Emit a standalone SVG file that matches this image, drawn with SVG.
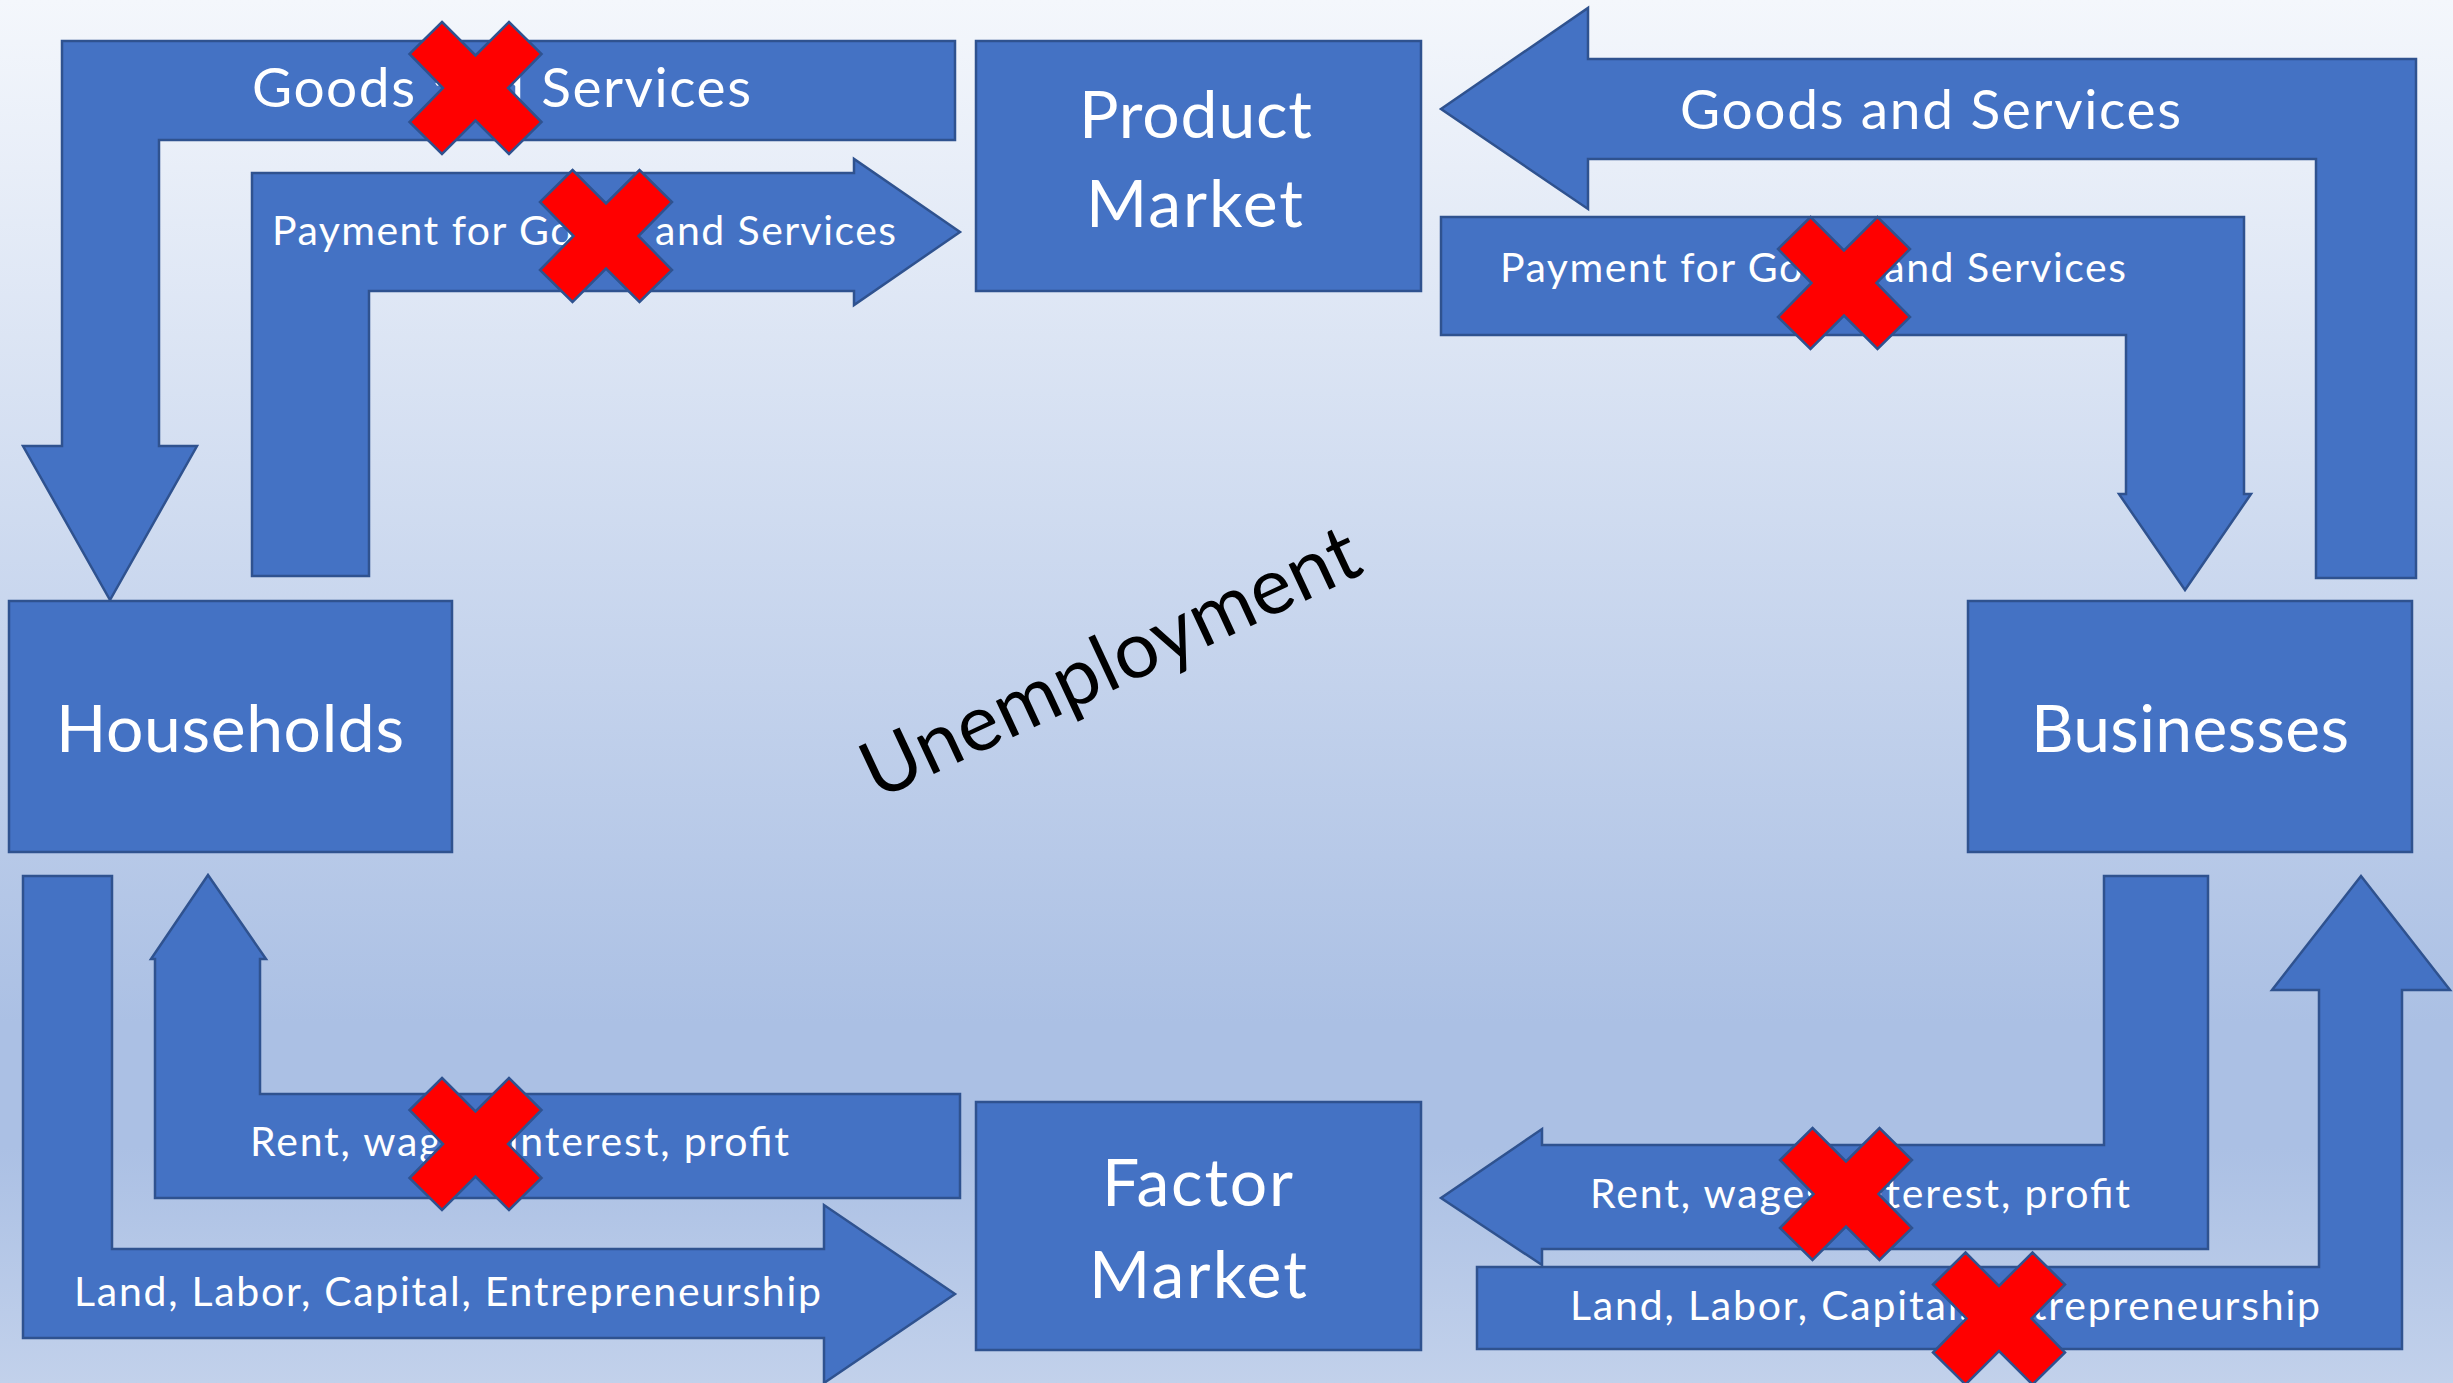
<svg xmlns="http://www.w3.org/2000/svg" width="2453" height="1383" viewBox="0 0 2453 1383">
  <defs>
    <linearGradient id="bg" x1="0" y1="0" x2="0" y2="1">
      <stop offset="0" stop-color="#f4f7fc"/>
      <stop offset="0.74" stop-color="#abc0e4"/>
      <stop offset="0.83" stop-color="#abc0e4"/>
      <stop offset="1" stop-color="#c2d1eb"/>
    </linearGradient>
    <!-- red "cancelled" cross, centred on 0,0 -->
    <polygon id="cross" points="-33.5,-66 0,-32.5 33.5,-66 66,-34 32.5,0 66,34 33.5,66 0,32.5 -33.5,66 -66,34 -32.5,0 -66,-34"/>
  </defs>
  <style>
    .shape { fill: #4472c4; stroke: #2f528f; stroke-width: 2.5; stroke-linejoin: miter; }
    .x { fill: #ff0000; stroke: #2f528f; stroke-width: 2.5; }
    .lbl { fill: #ffffff; font-family: Lato, "Open Sans", "Liberation Sans", sans-serif; }
    .node { font-size: 66px; }
    .flow-lg { font-size: 55px; }
    .flow-sm { font-size: 41px; }
    .free { fill: #000000; font-family: Lato, "Open Sans", "Liberation Sans", sans-serif; font-size: 79px; }
  </style>

  <rect width="2453" height="1383" fill="url(#bg)"/>

  <!-- flows between sectors and markets -->
  <g id="connectors">
    <g id="flow-goods-to-households">
      <polygon class="shape" points="62,41 955,41 955,140 159,140 159,446 197,446 110,600 23,446 62,446"/>
      <text class="lbl flow-lg" x="252" y="107" textLength="499" lengthAdjust="spacing">Goods and Services</text>
    </g>
    <g id="flow-household-payment">
      <polygon class="shape" points="252,576 252,173 854,173 854,159 960,232 854,305 854,291 369,291 369,576"/>
      <text class="lbl flow-sm" x="272" y="245" textLength="624" lengthAdjust="spacing">Payment for Goods and Services</text>
    </g>
    <g id="flow-goods-from-businesses">
      <polygon class="shape" points="2416,578 2416,59 1588,59 1588,8 1441,109 1588,209 1588,159 2316,159 2316,578"/>
      <text class="lbl flow-lg" x="1680" y="129" textLength="501" lengthAdjust="spacing">Goods and Services</text>
    </g>
    <g id="flow-business-revenue">
      <polygon class="shape" points="1441,217 2244,217 2244,494 2251,494 2185,590 2119,494 2126,494 2126,335 1441,335"/>
      <text class="lbl flow-sm" x="1500" y="282" textLength="626" lengthAdjust="spacing">Payment for Goods and Services</text>
    </g>
    <g id="flow-income-to-households">
      <polygon class="shape" points="960,1094 260,1094 260,959 266,959 208,875 151,959 155,959 155,1198 960,1198"/>
      <text class="lbl flow-sm" x="250" y="1156" textLength="539" lengthAdjust="spacing">Rent, wages, interest, profit</text>
    </g>
    <g id="flow-resources-from-households">
      <polygon class="shape" points="23,876 112,876 112,1249 824,1249 824,1205 955,1294 824,1383 824,1338 23,1338"/>
      <text class="lbl flow-sm" x="74" y="1306" textLength="747" lengthAdjust="spacing">Land, Labor, Capital, Entrepreneurship</text>
    </g>
    <g id="flow-business-costs">
      <polygon class="shape" points="2104,876 2208,876 2208,1249 1542,1249 1542,1265 1441,1198 1542,1129 1542,1145 2104,1145"/>
      <text class="lbl flow-sm" x="1590" y="1208" textLength="540" lengthAdjust="spacing">Rent, wages, interest, profit</text>
    </g>
    <g id="flow-resources-to-businesses">
      <polygon class="shape" points="1477,1267 2319,1267 2319,990 2272,990 2361,876 2450,990 2402,990 2402,1349 1477,1349"/>
      <text class="lbl flow-sm" x="1570" y="1320" textLength="750" lengthAdjust="spacing">Land, Labor, Capital, Entrepreneurship</text>
    </g>
  </g>

  <!-- sectors and markets -->
  <g id="product-market">
    <rect class="shape" x="976" y="41" width="445" height="250"/>
    <text class="lbl node" x="1079" y="138" textLength="233" lengthAdjust="spacing">Product</text>
    <text class="lbl node" x="1086" y="227" textLength="217" lengthAdjust="spacing">Market</text>
  </g>
  <g id="households">
    <rect class="shape" x="9" y="601" width="443" height="251"/>
    <text class="lbl node" x="56" y="752" textLength="348" lengthAdjust="spacing">Households</text>
  </g>
  <g id="businesses">
    <rect class="shape" x="1968" y="601" width="444" height="251"/>
    <text class="lbl node" x="2031" y="752" textLength="318" lengthAdjust="spacing">Businesses</text>
  </g>
  <g id="factor-market">
    <rect class="shape" x="976" y="1102" width="445" height="248"/>
    <text class="lbl node" x="1102" y="1206" textLength="191" lengthAdjust="spacing">Factor</text>
    <text class="lbl node" x="1089" y="1298" textLength="218" lengthAdjust="spacing">Market</text>
  </g>

  <!-- flows that break down -->
  <g id="crossouts">
    <use href="#cross" class="x" x="475.5" y="88"/>
    <use href="#cross" class="x" x="606" y="236"/>
    <use href="#cross" class="x" x="1844" y="283"/>
    <use href="#cross" class="x" x="475.5" y="1144"/>
    <use href="#cross" class="x" x="1846" y="1194"/>
    <use href="#cross" class="x" x="1999" y="1318.5"/>
  </g>

  <text id="unemployment" class="free" transform="translate(1110,662) rotate(-25)" x="0" y="27" text-anchor="middle" textLength="540" lengthAdjust="spacing">Unemployment</text>
</svg>
